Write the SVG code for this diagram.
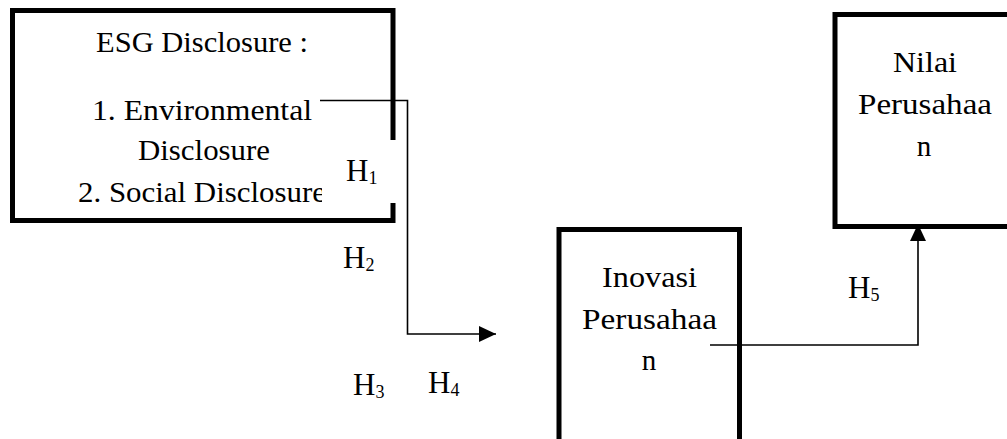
<svg xmlns="http://www.w3.org/2000/svg" width="1007" height="439" viewBox="0 0 1007 439">
<style>
.box{fill:none;stroke:#000;stroke-width:5;stroke-linejoin:miter}
.t{font-family:"Liberation Serif","Times New Roman",serif;font-size:29px;fill:#000}
.h{font-family:"Liberation Serif","Times New Roman",serif;font-size:31px;fill:#000}
.sub{font-size:18px}
.conn{fill:none;stroke:#000;stroke-width:1.6}
</style>
<defs>
<marker id="arr" markerUnits="userSpaceOnUse" markerWidth="18" markerHeight="16" refX="17" refY="8" orient="auto">
<path d="M0,0 L17,8 L0,16 Z" fill="#000"/>
</marker>
<clipPath id="clipSoc"><rect x="0" y="170" width="322" height="45"/></clipPath>
</defs>
<rect width="1007" height="439" fill="#fff"/>
<g id="connectors">
<path class="conn" d="M320,100.5 H407.5 V334 H496" marker-end="url(#arr)"/>
<path class="conn" d="M710,345 H918 V224" marker-end="url(#arr)"/>
</g>
<g id="node-esg">
<path class="box" d="M393,140 V10.5 H12.5 V220.5 H393 V203"/>
<text class="t" x="96" y="52" textLength="212" lengthAdjust="spacingAndGlyphs">ESG Disclosure :</text>
<text class="t" x="92" y="120" textLength="220" lengthAdjust="spacingAndGlyphs">1. Environmental</text>
<text class="t" x="138" y="160" textLength="132" lengthAdjust="spacingAndGlyphs">Disclosure</text>
<text class="t" x="78" y="202" textLength="248" lengthAdjust="spacingAndGlyphs" clip-path="url(#clipSoc)">2. Social Disclosure</text>
</g>
<g id="node-inovasi">
<path class="box" d="M559,445 V229.5 H739.5 V445"/>
<text class="t" x="602" y="287" textLength="95" lengthAdjust="spacingAndGlyphs">Inovasi</text>
<text class="t" x="582" y="329" textLength="135" lengthAdjust="spacingAndGlyphs">Perusahaa</text>
<text class="t" x="649" y="370" text-anchor="middle">n</text>
</g>
<g id="node-nilai">
<path class="box" d="M1012,14.5 H835 V226.5 H1012"/>
<text class="t" x="893" y="72" textLength="64" lengthAdjust="spacingAndGlyphs">Nilai</text>
<text class="t" x="858" y="114" textLength="134" lengthAdjust="spacingAndGlyphs">Perusahaa</text>
<text class="t" x="924" y="156" text-anchor="middle">n</text>
</g>
<g id="labels">
<text class="h" x="346" y="181">H<tspan class="sub" dy="2.5">1</tspan></text>
<text class="h" x="343" y="268">H<tspan class="sub" dy="2.5">2</tspan></text>
<text class="h" x="353" y="395">H<tspan class="sub" dy="2.5">3</tspan></text>
<text class="h" x="428" y="393">H<tspan class="sub" dy="2.5">4</tspan></text>
<text class="h" x="848" y="298">H<tspan class="sub" dy="2.5">5</tspan></text>
</g>
</svg>
